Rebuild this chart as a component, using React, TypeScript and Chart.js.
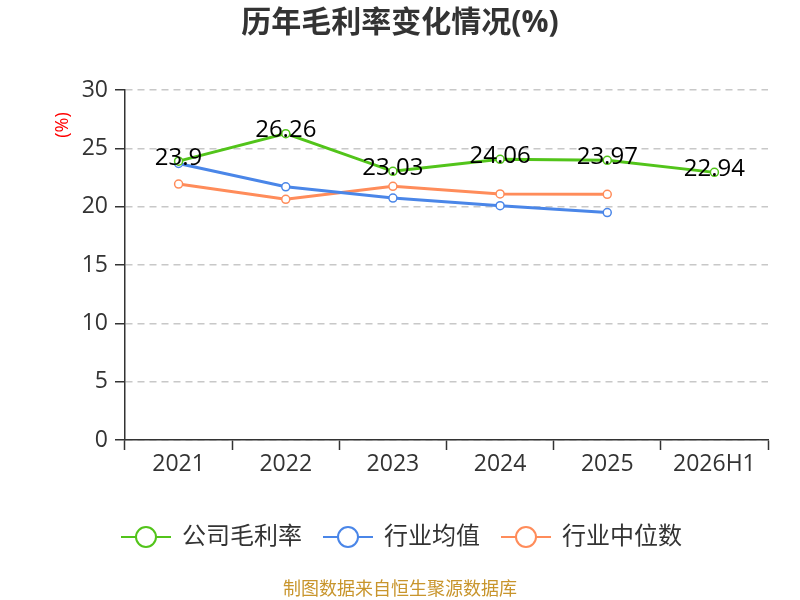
import { useEffect, useRef } from "react";
import Chart from "chart.js/auto";

const FONT = '"Open Sans", "Noto Sans CJK SC", sans-serif';

const categories = ["2021", "2022", "2023", "2024", "2025", "2026H1"];
const companyMargin = [23.9, 26.26, 23.03, 24.06, 23.97, 22.94];
const industryMean = [23.7, 21.7, 20.74, 20.08, 19.49, null];
const industryMedian = [21.94, 20.63, 21.74, 21.09, 21.06, null];
const seriesNames = ["公司毛利率", "行业均值", "行业中位数"];
const seriesColors = ["#52c41a", "#4a86e8", "#ff8c5a"];

const titleText = "历年毛利率变化情况(%)";
const footerText = "制图数据来自恒生聚源数据库";

// title, axis title, value labels, legend and footer
const decorPlugin = {
  id: "decor",
  afterDraw(chart: any) {
    const ctx = chart.ctx;
    ctx.save();

    ctx.fillStyle = "#333";
    ctx.font = `bold 30px ${FONT}`;
    ctx.textAlign = "center";
    ctx.textBaseline = "middle";
    ctx.fillText(titleText, 400, 23);

    ctx.save();
    ctx.translate(63, 125);
    ctx.rotate(-Math.PI / 2);
    ctx.fillStyle = "#ff0000";
    ctx.font = `18px ${FONT}`;
    ctx.fillText("(%)", 0, 0);
    ctx.restore();

    const meta = chart.getDatasetMeta(0);
    ctx.fillStyle = "#000";
    ctx.font = `24px ${FONT}`;
    meta.data.forEach((pt: any, i: number) => {
      ctx.fillText(String(companyMargin[i]), pt.x, pt.y - 3);
    });

    const legendX = [121, 323, 501];
    const ly = 537;
    seriesNames.forEach((name, i) => {
      const x = legendX[i];
      ctx.strokeStyle = seriesColors[i];
      ctx.lineWidth = 2;
      ctx.beginPath();
      ctx.moveTo(x, ly);
      ctx.lineTo(x + 50, ly);
      ctx.stroke();
      ctx.beginPath();
      ctx.arc(x + 25, ly, 10, 0, Math.PI * 2);
      ctx.fillStyle = "#fff";
      ctx.fill();
      ctx.stroke();
      ctx.fillStyle = "#333";
      ctx.font = `24px ${FONT}`;
      ctx.textAlign = "left";
      ctx.fillText(name, x + 61, ly);
    });

    ctx.textAlign = "center";
    ctx.fillStyle = "#c8952c";
    ctx.font = `18px ${FONT}`;
    ctx.fillText(footerText, 400, 590);

    ctx.restore();
  },
};

const App = () => {
  const canvasRef = useRef<HTMLCanvasElement>(null);

  useEffect(() => {
    if (!canvasRef.current) return;
    const ctx = canvasRef.current.getContext("2d");
    if (!ctx) return;

    const makeSet = (label: string, data: (number | null)[], color: string) => ({
      label,
      data,
      borderColor: color,
      backgroundColor: "#fff",
      pointBackgroundColor: "#fff",
      pointBorderColor: color,
      pointBorderWidth: 1.5,
      pointRadius: 4,
      borderWidth: 3,
      tension: 0,
      fill: false,
    });

    const chart = new Chart(ctx, {
      type: "line",
      data: {
        labels: categories,
        datasets: [
          makeSet(seriesNames[0], companyMargin, seriesColors[0]),
          makeSet(seriesNames[1], industryMean, seriesColors[1]),
          makeSet(seriesNames[2], industryMedian, seriesColors[2]),
        ],
      },
      options: {
        responsive: false,
        animation: false,
        layout: { padding: { top: 90, right: 32, bottom: 100, left: 0 } },
        plugins: {
          legend: { display: false },
          title: { display: false },
          tooltip: { enabled: false },
        },
        scales: {
          x: {
            offset: true,
            afterFit: (s: any) => {
              s.height = 60;
            },
            grid: {
              drawOnChartArea: false,
              drawTicks: true,
              offset: true,
              tickLength: 10,
              tickColor: "#333",
              tickWidth: 1.5,
            },
            border: { color: "#333", width: 1.5 },
            ticks: { color: "#333", font: { size: 23, family: FONT }, padding: 1 },
          },
          y: {
            min: 0,
            max: 30,
            afterFit: (s: any) => {
              s.width = 125;
            },
            ticks: { stepSize: 5, color: "#333", font: { size: 23, family: FONT }, padding: 7 },
            grid: {
              color: "#c8c8c8",
              lineWidth: 1.5,
              tickLength: 10,
              tickColor: "#333",
              tickWidth: 1.5,
              tickBorderDash: [],
            },
            border: { color: "#333", width: 1.5, dash: [7, 5] },
          },
        },
      },
      plugins: [decorPlugin],
    });

    return () => chart.destroy();
  }, []);

  return (
    <div style={{ position: "absolute", left: 0, top: 0, width: 800, height: 600, background: "#fff" }}>
      <canvas ref={canvasRef} width={800} height={600}></canvas>
    </div>
  );
};

export default App;
